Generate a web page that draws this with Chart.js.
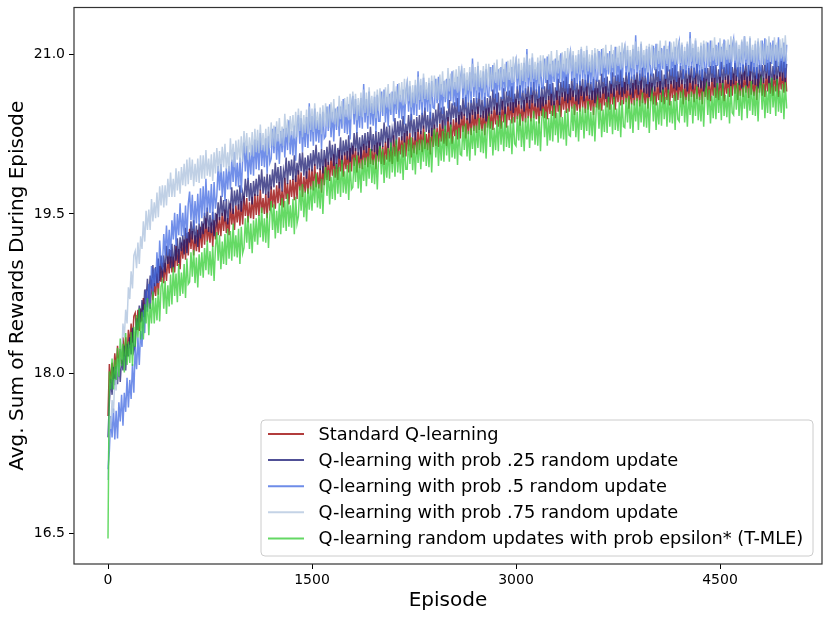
<!DOCTYPE html>
<html><head><meta charset="utf-8">
<script src="https://cdn.jsdelivr.net/npm/chart.js@4.4.1/dist/chart.umd.min.js"></script>
<style>html,body{margin:0;padding:0;background:#fff;}canvas{display:block;}</style>
</head><body>
<div style="width:830px;height:620px"><canvas id="c" width="830" height="620"></canvas></div>
<script>
const episodes = [
0,10,20,30,40,50,60,70,80,90,100,110,120,130,140,150,160,170,180,190,
200,210,220,230,240,250,260,270,280,290,300,310,320,330,340,350,360,370,380,390,
400,410,420,430,440,450,460,470,480,490,500,510,520,530,540,550,560,570,580,590,
600,610,620,630,640,650,660,670,680,690,700,710,720,730,740,750,760,770,780,790,
800,810,820,830,840,850,860,870,880,890,900,910,920,930,940,950,960,970,980,990,
1000,1010,1020,1030,1040,1050,1060,1070,1080,1090,1100,1110,1120,1130,1140,1150,1160,1170,1180,1190,
1200,1210,1220,1230,1240,1250,1260,1270,1280,1290,1300,1310,1320,1330,1340,1350,1360,1370,1380,1390,
1400,1410,1420,1430,1440,1450,1460,1470,1480,1490,1500,1510,1520,1530,1540,1550,1560,1570,1580,1590,
1600,1610,1620,1630,1640,1650,1660,1670,1680,1690,1700,1710,1720,1730,1740,1750,1760,1770,1780,1790,
1800,1810,1820,1830,1840,1850,1860,1870,1880,1890,1900,1910,1920,1930,1940,1950,1960,1970,1980,1990,
2000,2010,2020,2030,2040,2050,2060,2070,2080,2090,2100,2110,2120,2130,2140,2150,2160,2170,2180,2190,
2200,2210,2220,2230,2240,2250,2260,2270,2280,2290,2300,2310,2320,2330,2340,2350,2360,2370,2380,2390,
2400,2410,2420,2430,2440,2450,2460,2470,2480,2490,2500,2510,2520,2530,2540,2550,2560,2570,2580,2590,
2600,2610,2620,2630,2640,2650,2660,2670,2680,2690,2700,2710,2720,2730,2740,2750,2760,2770,2780,2790,
2800,2810,2820,2830,2840,2850,2860,2870,2880,2890,2900,2910,2920,2930,2940,2950,2960,2970,2980,2990,
3000,3010,3020,3030,3040,3050,3060,3070,3080,3090,3100,3110,3120,3130,3140,3150,3160,3170,3180,3190,
3200,3210,3220,3230,3240,3250,3260,3270,3280,3290,3300,3310,3320,3330,3340,3350,3360,3370,3380,3390,
3400,3410,3420,3430,3440,3450,3460,3470,3480,3490,3500,3510,3520,3530,3540,3550,3560,3570,3580,3590,
3600,3610,3620,3630,3640,3650,3660,3670,3680,3690,3700,3710,3720,3730,3740,3750,3760,3770,3780,3790,
3800,3810,3820,3830,3840,3850,3860,3870,3880,3890,3900,3910,3920,3930,3940,3950,3960,3970,3980,3990,
4000,4010,4020,4030,4040,4050,4060,4070,4080,4090,4100,4110,4120,4130,4140,4150,4160,4170,4180,4190,
4200,4210,4220,4230,4240,4250,4260,4270,4280,4290,4300,4310,4320,4330,4340,4350,4360,4370,4380,4390,
4400,4410,4420,4430,4440,4450,4460,4470,4480,4490,4500,4510,4520,4530,4540,4550,4560,4570,4580,4590,
4600,4610,4620,4630,4640,4650,4660,4670,4680,4690,4700,4710,4720,4730,4740,4750,4760,4770,4780,4790,
4800,4810,4820,4830,4840,4850,4860,4870,4880,4890,4900,4910,4920,4930,4940,4950,4960,4970,4980,4990];

const standardQ = [
17.60,18.09,17.91,18.10,17.95,18.19,18.04,18.26,18.07,18.23,18.09,18.34,18.16,18.34,18.16,18.41,18.27,18.47,18.29,18.54,
18.57,18.41,18.60,18.40,18.61,18.49,18.71,18.53,18.79,18.62,18.78,18.61,18.88,18.69,18.85,18.73,18.94,18.74,19.01,18.86,
19.04,18.85,19.04,18.87,19.10,18.94,19.16,18.95,19.10,18.95,19.20,19.01,19.17,18.98,19.23,19.08,19.26,19.07,19.32,19.11,
19.36,19.17,19.34,19.11,19.30,19.15,19.35,19.14,19.38,19.18,19.41,19.21,19.46,19.24,19.38,19.23,19.42,19.19,19.44,19.26,
19.50,19.30,19.47,19.29,19.51,19.34,19.54,19.32,19.46,19.30,19.60,19.40,19.55,19.35,19.58,19.42,19.59,19.39,19.62,19.40,
19.67,19.48,19.65,19.42,19.61,19.46,19.66,19.45,19.69,19.49,19.68,19.48,19.73,19.51,19.65,19.50,19.69,19.46,19.71,19.53,
19.76,19.56,19.73,19.55,19.77,19.60,19.80,19.58,19.72,19.56,19.84,19.64,19.79,19.59,19.82,19.66,19.83,19.63,19.86,19.64,
19.91,19.72,19.89,19.66,19.85,19.70,19.90,19.69,19.93,19.73,19.92,19.72,19.97,19.75,19.89,19.74,19.93,19.70,19.95,19.77,
20.02,19.82,19.99,19.81,20.03,19.86,20.06,19.84,19.98,19.82,20.10,19.90,20.05,19.85,20.08,19.92,20.09,19.89,20.12,19.90,
20.14,19.95,20.12,19.89,20.08,19.93,20.13,19.92,20.16,19.96,20.14,19.94,20.19,19.97,20.11,19.96,20.15,19.92,20.17,19.99,
20.17,19.97,20.14,19.96,20.18,20.01,20.21,19.99,20.13,19.97,20.24,20.04,20.19,19.99,20.22,20.06,20.23,20.03,20.26,20.04,
20.28,20.09,20.26,20.03,20.22,20.07,20.27,20.06,20.30,20.10,20.28,20.08,20.33,20.11,20.25,20.10,20.29,20.06,20.31,20.13,
20.34,20.14,20.31,20.13,20.35,20.18,20.38,20.16,20.30,20.14,20.41,20.21,20.36,20.16,20.39,20.23,20.40,20.20,20.43,20.21,
20.46,20.27,20.44,20.21,20.40,20.25,20.45,20.24,20.48,20.28,20.46,20.26,20.51,20.29,20.43,20.28,20.47,20.24,20.49,20.31,
20.50,20.30,20.47,20.29,20.51,20.34,20.54,20.32,20.46,20.30,20.56,20.36,20.51,20.31,20.54,20.38,20.55,20.35,20.58,20.36,
20.58,20.39,20.56,20.33,20.52,20.37,20.57,20.36,20.60,20.40,20.57,20.37,20.62,20.40,20.54,20.39,20.58,20.35,20.60,20.42,
20.60,20.40,20.57,20.39,20.61,20.44,20.64,20.42,20.56,20.40,20.66,20.46,20.61,20.41,20.64,20.48,20.65,20.45,20.68,20.46,
20.68,20.49,20.66,20.43,20.62,20.47,20.67,20.46,20.70,20.50,20.65,20.45,20.70,20.48,20.62,20.47,20.66,20.43,20.68,20.50,
20.68,20.48,20.65,20.47,20.69,20.52,20.72,20.50,20.64,20.48,20.73,20.53,20.68,20.48,20.71,20.55,20.72,20.52,20.75,20.53,
20.74,20.55,20.72,20.49,20.68,20.53,20.73,20.52,20.76,20.56,20.71,20.51,20.76,20.54,20.68,20.53,20.72,20.49,20.74,20.56,
20.73,20.53,20.70,20.52,20.74,20.57,20.77,20.55,20.69,20.53,20.77,20.57,20.72,20.52,20.75,20.59,20.76,20.56,20.79,20.57,
20.78,20.59,20.76,20.53,20.72,20.57,20.77,20.56,20.80,20.60,20.75,20.55,20.80,20.58,20.72,20.57,20.76,20.53,20.78,20.60,
20.77,20.57,20.74,20.56,20.78,20.61,20.81,20.59,20.73,20.57,20.81,20.61,20.76,20.56,20.79,20.63,20.80,20.60,20.83,20.61,
20.82,20.63,20.80,20.57,20.76,20.61,20.81,20.60,20.84,20.64,20.79,20.59,20.84,20.62,20.76,20.61,20.80,20.57,20.82,20.64,
20.81,20.61,20.78,20.60,20.82,20.65,20.85,20.63,20.77,20.61,20.85,20.65,20.80,20.60,20.83,20.67,20.84,20.64,20.87,20.65];

const prob25 = [
17.40,17.73,17.95,17.80,18.06,17.89,18.07,17.90,18.13,17.92,18.14,18.03,18.26,18.03,18.28,18.16,18.34,18.18,18.43,18.21,
18.26,18.52,18.41,18.64,18.48,18.69,18.53,18.79,18.69,18.89,18.70,18.92,18.80,19.02,18.82,19.00,18.85,19.08,18.87,19.11,
18.90,19.11,18.95,19.20,19.03,19.17,18.99,19.22,18.99,19.21,19.06,19.27,19.04,19.28,19.15,19.30,19.12,19.37,19.13,19.33,
19.23,19.43,19.26,19.44,19.22,19.39,19.19,19.41,19.27,19.43,19.31,19.51,19.36,19.56,19.33,19.49,19.32,19.52,19.29,19.51,
19.42,19.61,19.44,19.67,19.48,19.63,19.43,19.64,19.40,19.60,19.55,19.75,19.50,19.72,19.58,19.73,19.54,19.77,19.52,19.70,
19.63,19.83,19.66,19.84,19.62,19.79,19.59,19.81,19.67,19.83,19.67,19.87,19.72,19.92,19.69,19.85,19.68,19.88,19.65,19.87,
19.73,19.92,19.75,19.98,19.79,19.94,19.74,19.95,19.71,19.91,19.83,20.03,19.78,20.00,19.86,20.01,19.82,20.05,19.80,19.98,
19.87,20.07,19.90,20.08,19.86,20.03,19.83,20.05,19.91,20.07,19.90,20.10,19.95,20.15,19.92,20.08,19.91,20.11,19.88,20.10,
19.94,20.13,19.96,20.19,20.00,20.15,19.95,20.16,19.92,20.12,20.02,20.22,19.97,20.19,20.05,20.20,20.01,20.24,19.99,20.17,
20.06,20.26,20.09,20.27,20.05,20.22,20.02,20.24,20.10,20.26,20.07,20.27,20.12,20.32,20.09,20.25,20.08,20.28,20.05,20.27,
20.11,20.30,20.13,20.36,20.17,20.32,20.12,20.33,20.09,20.29,20.20,20.40,20.15,20.37,20.23,20.38,20.19,20.42,20.17,20.35,
20.23,20.43,20.26,20.44,20.22,20.39,20.19,20.41,20.27,20.43,20.25,20.45,20.30,20.50,20.27,20.43,20.26,20.46,20.23,20.45,
20.29,20.48,20.31,20.54,20.35,20.50,20.30,20.51,20.27,20.47,20.37,20.57,20.32,20.54,20.40,20.55,20.36,20.59,20.34,20.52,
20.39,20.59,20.42,20.60,20.38,20.55,20.35,20.57,20.43,20.59,20.39,20.59,20.44,20.64,20.41,20.57,20.40,20.60,20.37,20.59,
20.42,20.61,20.44,20.67,20.48,20.63,20.43,20.64,20.40,20.60,20.48,20.68,20.43,20.65,20.51,20.66,20.47,20.70,20.45,20.63,
20.50,20.70,20.53,20.71,20.49,20.66,20.46,20.68,20.54,20.70,20.49,20.69,20.54,20.74,20.51,20.67,20.50,20.70,20.47,20.69,
20.51,20.70,20.53,20.76,20.57,20.72,20.52,20.73,20.49,20.69,20.57,20.77,20.52,20.74,20.60,20.75,20.56,20.79,20.54,20.72,
20.57,20.77,20.60,20.78,20.56,20.73,20.53,20.75,20.61,20.77,20.56,20.76,20.61,20.81,20.58,20.74,20.57,20.77,20.54,20.76,
20.57,20.76,20.59,20.82,20.63,20.78,20.58,20.79,20.55,20.75,20.63,20.83,20.58,20.80,20.66,20.81,20.62,20.85,20.60,20.78,
20.63,20.83,20.66,20.84,20.62,20.79,20.59,20.81,20.67,20.83,20.62,20.82,20.67,20.87,20.64,20.80,20.63,20.83,20.60,20.82,
20.63,20.82,20.65,20.88,20.69,20.84,20.64,20.85,20.61,20.81,20.69,20.89,20.64,20.86,20.72,20.87,20.68,20.91,20.66,20.84,
20.69,20.89,20.72,20.90,20.68,20.85,20.65,20.87,20.73,20.89,20.67,20.87,20.72,20.92,20.69,20.85,20.68,20.88,20.65,20.87,
20.68,20.87,20.70,20.93,20.74,20.89,20.69,20.90,20.66,20.86,20.73,20.93,20.68,20.90,20.76,20.91,20.72,20.95,20.70,20.88,
20.72,20.92,20.75,20.93,20.71,20.88,20.68,20.90,20.76,20.92,20.70,20.90,20.75,20.95,20.72,20.88,20.71,20.91,20.68,20.90,
20.71,20.90,20.73,20.96,20.77,20.92,20.72,20.93,20.69,20.89,20.76,20.96,20.71,20.93,20.79,20.94,20.75,20.98,20.73,20.91];

const prob50 = [
17.10,17.27,17.60,17.40,17.67,17.38,17.65,17.39,17.73,17.55,17.80,17.51,17.82,17.64,17.96,17.68,17.94,17.76,18.09,17.82,
18.25,18.04,18.34,18.08,18.40,18.25,18.60,18.38,18.79,18.58,18.84,18.61,19.01,18.74,18.99,18.82,19.14,18.85,19.25,19.04,
19.00,19.31,19.11,19.39,19.11,19.35,19.10,19.44,19.26,19.51,19.20,19.50,19.30,19.60,19.29,19.51,19.29,19.58,19.27,19.59,
19.71,19.44,19.68,19.36,19.62,19.41,19.69,19.40,19.74,19.46,19.76,19.48,19.83,19.52,19.72,19.51,19.78,19.45,19.80,19.55,
19.67,19.95,19.72,19.97,19.66,19.90,19.62,19.93,19.73,19.95,19.73,20.01,19.80,20.08,19.76,19.98,19.75,20.03,19.70,20.01,
20.17,19.90,20.14,19.82,20.08,19.87,20.15,19.86,20.20,19.92,20.19,19.91,20.26,19.95,20.15,19.94,20.21,19.88,20.23,19.98,
20.02,20.30,20.07,20.32,20.01,20.25,19.97,20.28,20.08,20.30,20.03,20.31,20.10,20.38,20.06,20.28,20.05,20.33,20.00,20.31,
20.43,20.16,20.40,20.08,20.34,20.13,20.41,20.12,20.54,20.18,20.42,20.14,20.49,20.18,20.38,20.17,20.44,20.11,20.46,20.21,
20.23,20.51,20.28,20.53,20.22,20.46,20.18,20.49,20.29,20.51,20.23,20.51,20.30,20.58,20.26,20.48,20.25,20.53,20.20,20.51,
20.61,20.34,20.58,20.26,20.52,20.31,20.59,20.30,20.72,20.36,20.58,20.30,20.65,20.34,20.54,20.33,20.60,20.27,20.62,20.37,
20.37,20.65,20.42,20.67,20.36,20.60,20.32,20.63,20.43,20.65,20.37,20.65,20.44,20.72,20.40,20.62,20.39,20.67,20.34,20.65,
20.73,20.46,20.70,20.38,20.64,20.43,20.71,20.42,20.84,20.48,20.71,20.43,20.78,20.47,20.67,20.46,20.73,20.40,20.75,20.50,
20.49,20.77,20.54,20.79,20.48,20.72,20.44,20.75,20.55,20.77,20.49,20.77,20.56,20.84,20.52,20.74,20.51,20.79,20.46,20.77,
20.85,20.58,20.82,20.50,20.76,20.55,20.83,20.54,20.96,20.60,20.82,20.54,20.89,20.58,20.78,20.57,20.84,20.51,20.86,20.61,
20.60,20.88,20.65,20.90,20.59,20.83,20.55,20.86,20.66,20.88,20.58,20.86,20.65,20.93,20.61,20.83,20.60,20.88,20.55,20.86,
20.94,20.67,20.91,20.59,20.85,20.64,20.92,20.63,21.05,20.69,20.90,20.62,20.97,20.66,20.86,20.65,20.92,20.59,20.94,20.69,
20.68,20.96,20.73,20.98,20.67,20.91,20.63,20.94,20.74,20.96,20.66,20.94,20.73,21.01,20.69,20.91,20.68,20.96,20.63,20.94,
21.02,20.75,20.99,20.67,20.93,20.72,21.00,20.71,21.05,20.77,20.97,20.69,21.04,20.73,20.93,20.72,20.99,20.66,21.01,20.76,
20.75,21.03,20.80,21.05,20.74,20.98,20.70,21.01,20.81,21.03,20.72,21.00,20.79,21.07,20.75,20.97,20.74,21.02,20.69,21.00,
21.07,20.80,21.04,20.72,20.98,20.77,21.05,20.76,21.18,20.82,21.03,20.75,21.10,20.79,20.99,20.78,21.05,20.72,21.07,20.82,
20.80,21.08,20.85,21.10,20.79,21.03,20.75,21.06,20.86,21.08,20.77,21.05,20.84,21.12,20.80,21.02,20.79,21.07,20.74,21.05,
21.12,20.85,21.09,20.77,21.03,20.82,21.10,20.81,21.21,20.87,21.06,20.78,21.13,20.82,21.02,20.81,21.08,20.75,21.10,20.85,
20.83,21.11,20.88,21.13,20.82,21.06,20.78,21.09,20.89,21.11,20.79,21.07,20.86,21.14,20.82,21.04,20.81,21.09,20.76,21.07,
21.14,20.87,21.11,20.79,21.05,20.84,21.12,20.83,21.17,20.89,21.08,20.80,21.15,20.84,21.04,20.83,21.10,20.77,21.12,20.87,
20.85,21.13,20.90,21.15,20.84,21.08,20.80,21.11,20.91,21.13,20.81,21.09,20.88,21.16,20.84,21.06,20.83,21.11,20.78,21.09];

const prob75 = [
17.00,17.60,17.48,17.75,17.63,17.95,17.84,18.14,17.98,18.23,18.13,18.47,18.34,18.60,18.47,18.81,18.70,18.96,18.80,19.11,
19.15,18.99,19.23,19.03,19.29,19.17,19.43,19.24,19.53,19.35,19.54,19.35,19.64,19.43,19.61,19.46,19.70,19.47,19.76,19.58,
19.77,19.56,19.77,19.58,19.83,19.66,19.89,19.66,19.83,19.66,19.93,19.72,19.90,19.69,19.94,19.77,19.97,19.76,20.01,19.78,
20.03,19.82,20.01,19.76,19.97,19.80,20.02,19.79,20.05,19.83,20.05,19.83,20.10,19.86,20.02,19.85,20.06,19.81,20.08,19.88,
20.12,19.90,20.09,19.89,20.13,19.94,20.16,19.92,20.08,19.90,20.21,19.99,20.16,19.94,20.19,20.01,20.20,19.98,20.23,19.99,
20.28,20.07,20.26,20.01,20.22,20.05,20.27,20.04,20.30,20.08,20.29,20.07,20.34,20.10,20.26,20.09,20.30,20.05,20.32,20.12,
20.36,20.14,20.33,20.13,20.37,20.18,20.40,20.16,20.32,20.14,20.44,20.22,20.39,20.17,20.42,20.24,20.43,20.21,20.46,20.22,
20.49,20.28,20.47,20.22,20.43,20.26,20.48,20.25,20.51,20.29,20.49,20.27,20.54,20.30,20.46,20.29,20.50,20.25,20.52,20.32,
20.54,20.32,20.51,20.31,20.55,20.36,20.58,20.34,20.50,20.32,20.61,20.39,20.56,20.34,20.59,20.41,20.60,20.38,20.63,20.39,
20.65,20.44,20.63,20.38,20.59,20.42,20.64,20.41,20.67,20.45,20.64,20.42,20.69,20.45,20.61,20.44,20.65,20.40,20.67,20.47,
20.68,20.46,20.65,20.45,20.69,20.50,20.72,20.48,20.64,20.46,20.75,20.53,20.70,20.48,20.73,20.55,20.74,20.52,20.77,20.53,
20.77,20.56,20.75,20.50,20.71,20.54,20.76,20.53,20.79,20.57,20.77,20.55,20.82,20.58,20.74,20.57,20.78,20.53,20.80,20.60,
20.80,20.58,20.77,20.57,20.81,20.62,20.84,20.60,20.76,20.58,20.87,20.65,20.82,20.60,20.85,20.67,20.86,20.64,20.89,20.65,
20.89,20.68,20.87,20.62,20.83,20.66,20.88,20.65,20.91,20.69,20.88,20.66,20.93,20.69,20.85,20.68,20.89,20.64,20.91,20.71,
20.91,20.69,20.88,20.68,20.92,20.73,20.95,20.71,20.87,20.69,20.96,20.74,20.91,20.69,20.94,20.76,20.95,20.73,20.98,20.74,
20.98,20.77,20.96,20.71,20.92,20.75,20.97,20.74,21.00,20.78,20.96,20.74,21.01,20.77,20.93,20.76,20.97,20.72,20.99,20.79,
20.99,20.77,20.96,20.76,21.00,20.81,21.03,20.79,20.95,20.77,21.04,20.82,20.99,20.77,21.02,20.84,21.03,20.81,21.06,20.82,
21.05,20.84,21.03,20.78,20.99,20.82,21.04,20.81,21.07,20.85,21.03,20.81,21.08,20.84,21.00,20.83,21.04,20.79,21.06,20.86,
21.05,20.83,21.02,20.82,21.06,20.87,21.09,20.85,21.01,20.83,21.09,20.87,21.04,20.82,21.07,20.89,21.08,20.86,21.11,20.87,
21.10,20.89,21.08,20.83,21.04,20.87,21.09,20.86,21.12,20.90,21.07,20.85,21.12,20.88,21.04,20.87,21.08,20.83,21.10,20.90,
21.09,20.87,21.06,20.86,21.10,20.91,21.13,20.89,21.05,20.87,21.13,20.91,21.08,20.86,21.11,20.93,21.12,20.90,21.15,20.91,
21.13,20.92,21.11,20.86,21.07,20.90,21.12,20.89,21.15,20.93,21.10,20.88,21.15,20.91,21.07,20.90,21.11,20.86,21.13,20.93,
21.12,20.90,21.09,20.89,21.13,20.94,21.16,20.92,21.08,20.90,21.15,20.93,21.10,20.88,21.13,20.95,21.14,20.92,21.17,20.93,
21.15,20.94,21.13,20.88,21.09,20.92,21.14,20.91,21.17,20.95,21.12,20.90,21.17,20.93,21.09,20.92,21.13,20.88,21.15,20.95,
21.13,20.91,21.10,20.90,21.14,20.95,21.17,20.93,21.09,20.91,21.16,20.94,21.11,20.89,21.14,20.96,21.15,20.93,21.18,20.94];

const tmle = [
16.45,18.02,17.85,18.14,17.85,18.13,17.94,18.24,17.97,18.33,18.07,18.28,18.01,18.38,18.08,18.30,18.10,18.39,18.07,18.44,
18.25,18.55,18.34,18.61,18.32,18.58,18.32,18.65,18.47,18.71,18.36,18.66,18.47,18.77,18.47,18.71,18.50,18.80,18.49,18.82,
18.87,18.61,18.87,18.56,18.83,18.63,18.93,18.65,19.00,18.73,18.94,18.67,19.03,18.73,18.95,18.75,19.03,18.71,19.08,18.84,
18.86,19.14,18.91,19.16,18.85,19.09,18.81,19.12,18.92,19.14,18.90,19.18,18.97,19.25,18.93,19.15,18.92,19.20,18.87,19.18,
19.33,19.06,19.30,18.98,19.24,19.03,19.31,19.02,19.36,19.08,19.34,19.06,19.41,19.10,19.30,19.09,19.36,19.03,19.38,19.13,
19.18,19.46,19.23,19.48,19.17,19.41,19.13,19.44,19.24,19.46,19.21,19.49,19.28,19.56,19.24,19.46,19.23,19.51,19.18,19.49,
19.62,19.35,19.59,19.27,19.53,19.32,19.60,19.31,19.65,19.37,19.62,19.34,19.69,19.38,19.58,19.37,19.64,19.31,19.66,19.41,
19.48,19.76,19.53,19.78,19.47,19.71,19.43,19.74,19.54,19.76,19.53,19.81,19.60,19.88,19.56,19.78,19.55,19.83,19.50,19.81,
19.94,19.67,19.91,19.59,19.85,19.64,19.92,19.63,19.97,19.69,19.94,19.66,20.01,19.70,19.90,19.69,19.96,19.63,19.98,19.73,
19.75,20.03,19.80,20.05,19.74,19.98,19.70,20.01,19.81,20.03,19.76,20.04,19.83,20.11,19.79,20.01,19.78,20.06,19.73,20.04,
20.14,19.87,20.11,19.79,20.05,19.84,20.12,19.83,20.17,19.89,20.13,19.85,20.20,19.89,20.09,19.88,20.15,19.82,20.17,19.92,
19.92,20.20,19.97,20.22,19.91,20.15,19.87,20.18,19.98,20.20,19.92,20.20,19.99,20.27,19.95,20.17,19.94,20.22,19.89,20.20,
20.30,20.03,20.27,19.95,20.21,20.00,20.28,19.99,20.33,20.05,20.27,19.99,20.34,20.03,20.23,20.02,20.29,19.96,20.31,20.06,
20.05,20.33,20.10,20.35,20.04,20.28,20.00,20.31,20.11,20.33,20.05,20.33,20.12,20.40,20.08,20.30,20.07,20.35,20.02,20.33,
20.40,20.13,20.37,20.05,20.31,20.10,20.38,20.09,20.43,20.15,20.37,20.09,20.44,20.13,20.33,20.12,20.39,20.06,20.41,20.16,
20.14,20.42,20.19,20.44,20.13,20.37,20.09,20.40,20.20,20.42,20.12,20.40,20.19,20.47,20.15,20.37,20.14,20.42,20.09,20.40,
20.49,20.22,20.46,20.14,20.40,20.19,20.47,20.18,20.52,20.24,20.45,20.17,20.52,20.21,20.41,20.20,20.47,20.14,20.49,20.24,
20.23,20.51,20.28,20.53,20.22,20.46,20.18,20.49,20.29,20.51,20.21,20.49,20.28,20.56,20.24,20.46,20.23,20.51,20.18,20.49,
20.57,20.30,20.54,20.22,20.48,20.27,20.55,20.26,20.60,20.32,20.53,20.25,20.60,20.29,20.49,20.28,20.55,20.22,20.57,20.32,
20.31,20.59,20.36,20.61,20.30,20.54,20.26,20.57,20.37,20.59,20.29,20.57,20.36,20.64,20.32,20.54,20.31,20.59,20.26,20.57,
20.64,20.37,20.61,20.29,20.55,20.34,20.62,20.33,20.67,20.39,20.60,20.32,20.67,20.36,20.56,20.35,20.62,20.29,20.64,20.39,
20.37,20.65,20.42,20.67,20.36,20.60,20.32,20.63,20.43,20.65,20.35,20.63,20.42,20.70,20.38,20.60,20.37,20.65,20.32,20.63,
20.70,20.43,20.67,20.35,20.61,20.40,20.68,20.39,20.73,20.45,20.66,20.38,20.73,20.42,20.62,20.41,20.68,20.35,20.70,20.45,
20.43,20.71,20.48,20.73,20.42,20.66,20.38,20.69,20.49,20.71,20.40,20.68,20.47,20.75,20.43,20.65,20.42,20.70,20.37,20.68,
20.75,20.48,20.72,20.40,20.66,20.45,20.73,20.44,20.78,20.50,20.70,20.42,20.77,20.46,20.66,20.45,20.72,20.39,20.74,20.49];

const seriesNames = [
  "Standard Q-learning",
  "Q-learning with prob .25 random update",
  "Q-learning with prob .5 random update",
  "Q-learning with prob .75 random update",
  "Q-learning random updates with prob epsilon* (T-MLE)"
];
const xTickValues = [0, 1500, 3000, 4500];
const yTickValues = [16.5, 18.0, 19.5, 21.0];
const xTitle = "Episode";
const yTitle = "Avg. Sum of Rewards During Episode";

const seriesValues = [standardQ, prob25, prob50, prob75, tmle];
const seriesColors = [
  "rgba(165,38,38,0.9)",
  "rgba(25,25,112,0.75)",
  "rgba(65,105,225,0.75)",
  "rgba(176,196,222,0.8)",
  "rgba(50,205,50,0.75)"
];
const legendColors = [
  "rgb(178,60,60)",
  "rgb(80,80,150)",
  "rgb(110,140,232)",
  "rgb(196,211,230)",
  "rgb(100,216,100)"
];

const FONT = "'DejaVu Sans', sans-serif";

const datasets = seriesValues.map((vals, i) => ({
  label: seriesNames[i],
  data: vals.map((v, j) => ({x: episodes[j], y: v})),
  borderColor: seriesColors[i],
  backgroundColor: seriesColors[i],
  borderWidth: 1.5,
  pointRadius: 0,
  tension: 0,
  fill: false,
  order: 5 - i
}));

const framePlugin = {
  id: 'frame',
  afterDraw(chart) {
    const {ctx, chartArea: a} = chart;
    ctx.save();
    const bx = 261, by = 420, bw = 552, bh = 136, r = 4;
    ctx.beginPath();
    ctx.moveTo(bx + r, by);
    ctx.arcTo(bx + bw, by, bx + bw, by + bh, r);
    ctx.arcTo(bx + bw, by + bh, bx, by + bh, r);
    ctx.arcTo(bx, by + bh, bx, by, r);
    ctx.arcTo(bx, by, bx + bw, by, r);
    ctx.closePath();
    ctx.fillStyle = "rgba(255,255,255,0.8)";
    ctx.fill();
    ctx.strokeStyle = "#cccccc";
    ctx.lineWidth = 1;
    ctx.stroke();
    ctx.font = "17.8px " + FONT;
    ctx.textBaseline = "middle";
    ctx.textAlign = "left";
    for (let i = 0; i < seriesNames.length; i++) {
      const yy = 434 + i * 26.1;
      ctx.beginPath();
      ctx.moveTo(268, yy);
      ctx.lineTo(304, yy);
      ctx.strokeStyle = legendColors[i];
      ctx.lineWidth = 2;
      ctx.stroke();
      ctx.fillStyle = "#000";
      ctx.fillText(seriesNames[i], 318.5, yy + 1);
    }
    ctx.strokeStyle = "#333";
    ctx.lineWidth = 1.2;
    ctx.strokeRect(a.left, a.top, a.right - a.left, a.bottom - a.top);
    ctx.restore();
  }
};

new Chart(document.getElementById('c'), {
  type: 'line',
  data: {datasets},
  options: {
    responsive: false,
    devicePixelRatio: 1,
    animation: false,
    events: [],
    layout: {padding: {top: 7.5, right: 8, left: 0, bottom: 0}},
    plugins: {legend: {display: false}, tooltip: {enabled: false}},
    scales: {
      x: {
        type: 'linear',
        min: -250, max: 5250,
        afterBuildTicks: (s) => { s.ticks = xTickValues.map(v => ({value: v})); },
        afterFit: (s) => { s.height = 56; s.paddingLeft = 0; s.paddingRight = 0; },
        ticks: {color: '#000', font: {family: FONT, size: 14}, padding: 3, maxRotation: 0,
                callback: (v) => String(v)},
        grid: {display: true, drawOnChartArea: false, drawTicks: true, tickLength: 5, color: '#000', lineWidth: 1},
        border: {display: false},
        title: {display: true, text: xTitle, color: '#000', font: {family: FONT, size: 20}, padding: {top: 0, bottom: 7}}
      },
      y: {
        type: 'linear',
        min: 16.21, max: 21.44,
        afterBuildTicks: (s) => { s.ticks = yTickValues.map(v => ({value: v})); },
        afterFit: (s) => { s.width = 74; s.paddingTop = 0; s.paddingBottom = 0; },
        ticks: {color: '#000', font: {family: FONT, size: 14}, padding: 4,
                callback: (v) => Number(v).toFixed(1)},
        grid: {display: true, drawOnChartArea: false, drawTicks: true, tickLength: 5, color: '#000', lineWidth: 1},
        border: {display: false},
        title: {display: true, text: yTitle, color: '#000', font: {family: FONT, size: 20}, padding: {top: 6, bottom: 0}}
      }
    }
  },
  plugins: [framePlugin]
});
</script>
</body></html>
